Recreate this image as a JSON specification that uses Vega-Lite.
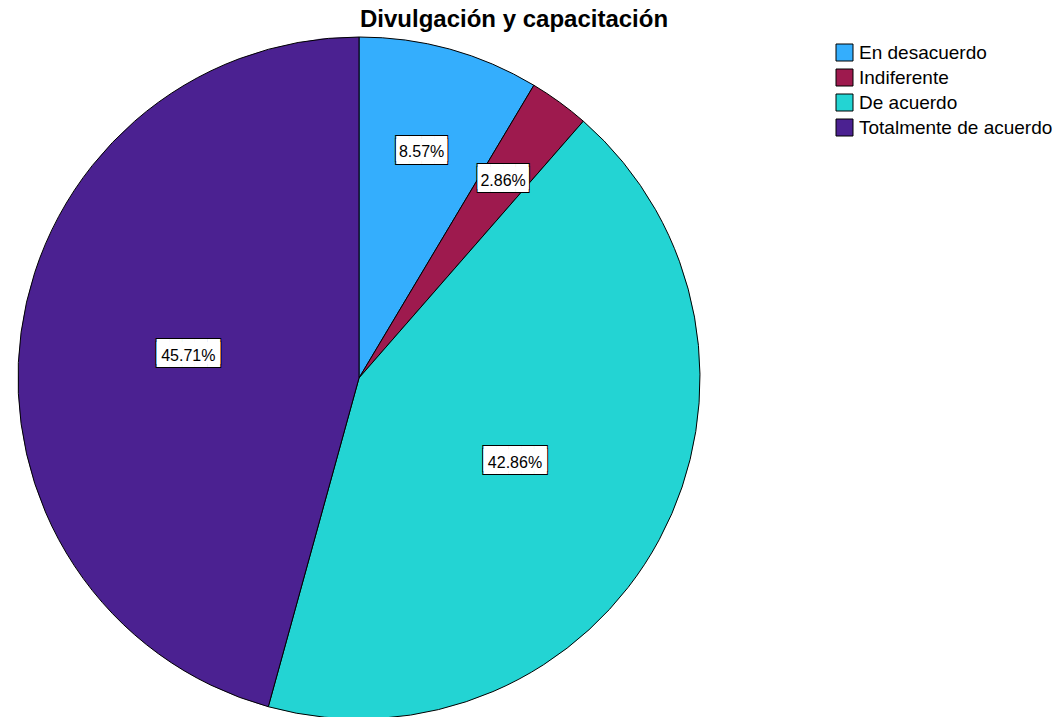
{
  "$schema": "https://vega.github.io/schema/vega-lite/v6.json",
  "width": 690,
  "height": 676,
  "autosize": {"type": "none"},
  "padding": {"left": 14, "top": 40, "right": 360, "bottom": 1},
  "background": "white",
  "title": {
    "text": "Divulgación y capacitación",
    "font": "Liberation Sans",
    "fontSize": 24,
    "fontWeight": "bold",
    "color": "black",
    "anchor": "start",
    "frame": "group",
    "dx": 346,
    "offset": 3
  },
  "data": {
    "values": [
      {"categoria": "En desacuerdo", "valor": 0.085714, "orden": 1},
      {"categoria": "Indiferente", "valor": 0.028571, "orden": 2},
      {"categoria": "De acuerdo", "valor": 0.428571, "orden": 3},
      {"categoria": "Totalmente de acuerdo", "valor": 0.457143, "orden": 4}
    ]
  },
  "encoding": {
    "theta": {"field": "valor", "type": "quantitative", "stack": true},
    "order": {"field": "orden", "type": "quantitative"}
  },
  "layer": [
    {
      "mark": {"type": "arc", "radius": 341, "stroke": "black", "strokeWidth": 1},
      "encoding": {
        "color": {
          "field": "categoria",
          "type": "nominal",
          "scale": {
            "domain": ["En desacuerdo", "Indiferente", "De acuerdo", "Totalmente de acuerdo"],
            "range": ["#34AEFD", "#9E1A4E", "#23D4D3", "#4B2191"]
          },
          "legend": {
            "title": null,
            "orient": "none",
            "legendX": 821,
            "legendY": 3,
            "symbolType": "square",
            "symbolSize": 289,
            "symbolStrokeColor": "black",
            "symbolStrokeWidth": 1,
            "symbolOpacity": 1,
            "labelFont": "Liberation Sans",
            "labelFontSize": 19,
            "labelColor": "black",
            "labelOffset": 5,
            "labelLimit": 0,
            "rowPadding": 4
          }
        }
      }
    },
    {
      "mark": {"type": "text", "font": "DejaVu Sans Mono", "fontSize": 21, "fill": "black", "stroke": "black", "strokeWidth": 2, "align": "center", "baseline": "middle", "dy": -1.5},
      "encoding": {
        "radius": {"field": "valor", "type": "quantitative", "scale": {"type": "linear", "domain": [0, 0.5], "range": [250, 165]}},
        "text": {"condition": {"test": "datum.valor > 0.1", "value": "█████"}, "value": "████"}
      }
    },
    {
      "mark": {"type": "text", "font": "DejaVu Sans Mono", "fontSize": 21, "fill": "black", "stroke": "black", "strokeWidth": 2, "align": "center", "baseline": "middle", "dy": 1.5},
      "encoding": {
        "radius": {"field": "valor", "type": "quantitative", "scale": {"type": "linear", "domain": [0, 0.5], "range": [250, 165]}},
        "text": {"condition": {"test": "datum.valor > 0.1", "value": "█████"}, "value": "████"}
      }
    },
    {
      "mark": {"type": "text", "font": "DejaVu Sans Mono", "fontSize": 21, "fill": "white", "align": "center", "baseline": "middle", "dy": -1.5},
      "encoding": {
        "radius": {"field": "valor", "type": "quantitative", "scale": {"type": "linear", "domain": [0, 0.5], "range": [250, 165]}},
        "text": {"condition": {"test": "datum.valor > 0.1", "value": "█████"}, "value": "████"}
      }
    },
    {
      "mark": {"type": "text", "font": "DejaVu Sans Mono", "fontSize": 21, "fill": "white", "align": "center", "baseline": "middle", "dy": 1.5},
      "encoding": {
        "radius": {"field": "valor", "type": "quantitative", "scale": {"type": "linear", "domain": [0, 0.5], "range": [250, 165]}},
        "text": {"condition": {"test": "datum.valor > 0.1", "value": "█████"}, "value": "████"}
      }
    },
    {
      "mark": {"type": "text", "font": "Liberation Sans", "fontSize": 16, "fill": "black", "align": "center", "baseline": "middle", "dy": 1},
      "encoding": {
        "radius": {"field": "valor", "type": "quantitative", "scale": {"type": "linear", "domain": [0, 0.5], "range": [250, 165]}},
        "text": {"field": "valor", "type": "quantitative", "format": ".2%"}
      }
    }
  ]
}
